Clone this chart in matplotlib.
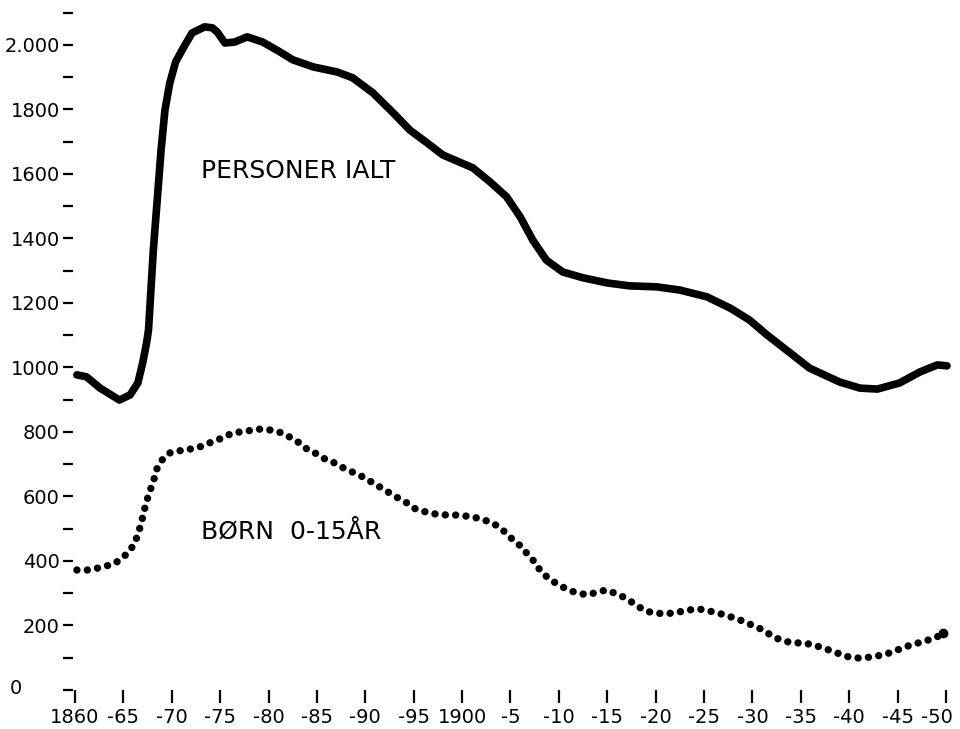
"""Befolkning 1860-1950: personer i alt og børn 0-15 år."""

import matplotlib
matplotlib.use("Agg")
import matplotlib.pyplot as plt
from matplotlib.transforms import ScaledTranslation

# personer i alt (solid line)
total_years = [1860.2, 1861.2, 1862.6, 1864.6, 1865.7, 1866.5, 1867.0, 1867.4, 1867.6,
               1868.1, 1868.5, 1868.9, 1869.3, 1869.8, 1870.4, 1871.2, 1872.1, 1873.4,
               1874.2, 1874.7, 1875.5, 1876.5, 1877.8, 1879.4, 1881.2, 1882.5, 1884.6,
               1887.1, 1888.7, 1890.8, 1892.9, 1894.6, 1896.4, 1898.0, 1901.1, 1902.9,
               1904.6, 1906.0, 1907.3, 1908.7, 1910.4, 1912.5, 1915.0, 1917.3, 1920.1,
               1922.5, 1925.3, 1927.7, 1929.7, 1931.5, 1933.9, 1935.9, 1939.0, 1941.1,
               1942.9, 1945.2, 1947.3, 1949.1, 1950.1]
total_values = [977, 971, 936, 899, 915, 952, 1014, 1076, 1116,
                1364, 1519, 1674, 1798, 1882, 1947, 1991, 2037, 2056,
                2053, 2040, 2006, 2009, 2025, 2009, 1978, 1954, 1932,
                1916, 1898, 1851, 1789, 1736, 1696, 1659, 1619, 1575,
                1529, 1467, 1395, 1333, 1296, 1278, 1262, 1253, 1250,
                1240, 1219, 1184, 1147, 1101, 1045, 998, 955, 936,
                933, 952, 986, 1008, 1005]

# børn 0-15 år (dotted line)
child_years = [1860.2, 1861.3, 1862.9, 1864.2, 1865.5, 1866.2, 1866.7, 1867.0, 1867.3,
               1867.7, 1868.1, 1868.4, 1869.0, 1869.8, 1871.2, 1872.6, 1873.9, 1875.2,
               1876.3, 1877.8, 1878.9, 1880.2, 1881.4, 1882.2, 1883.2, 1884.1, 1885.0,
               1886.0, 1887.1, 1887.9, 1888.9, 1890.0, 1890.8, 1891.7, 1892.5, 1893.4,
               1894.3, 1895.2, 1896.6, 1897.8, 1899.1, 1900.2, 1901.2, 1902.3, 1903.3,
               1904.1, 1904.6, 1905.5, 1906.2, 1906.8, 1907.5, 1908.1, 1908.9, 1909.8,
               1910.8, 1911.8, 1913.0, 1914.0, 1914.9, 1915.7, 1916.7, 1917.5, 1918.3,
               1919.0, 1919.8, 1921.1, 1922.4, 1923.4, 1924.5, 1925.5, 1926.4, 1927.5,
               1928.5, 1929.4, 1930.5, 1931.4, 1932.2, 1933.2, 1934.2, 1935.2, 1936.3,
               1937.3, 1938.2, 1939.0, 1940.0, 1941.0, 1942.2, 1943.5, 1944.5, 1945.7,
               1946.8, 1947.8, 1948.9, 1949.7]
child_values = [372, 372, 381, 394, 425, 456, 502, 536, 574,
                614, 645, 682, 713, 735, 744, 750, 766, 781,
                797, 803, 809, 806, 797, 784, 766, 744, 732,
                713, 701, 685, 673, 657, 642, 626, 611, 595,
                580, 561, 549, 543, 543, 540, 536, 527, 515,
                499, 484, 459, 443, 419, 397, 369, 347, 329,
                313, 301, 295, 304, 310, 301, 288, 273, 257,
                245, 239, 236, 242, 248, 251, 245, 239, 229,
                220, 208, 195, 180, 164, 152, 146, 146, 140,
                130, 121, 112, 102, 99, 102, 109, 118, 133,
                143, 152, 161, 177]

x_ticks = list(range(1860, 1951, 5))
x_labels = ["1860", "-65", "-70", "-75", "-80", "-85", "-90", "-95", "1900",
            "-5", "-10", "-15", "-20", "-25", "-30", "-35", "-40", "-45", "-50"]
y_ticks = list(range(0, 2001, 200))
y_labels = ["", "200", "400", "600", "800", "1000", "1200", "1400", "1600", "1800", "2.000"]
y_minor = list(range(100, 2101, 200))

W, H = 960, 729
fig = plt.figure(figsize=(W / 100, H / 100), dpi=100)
left_px, right_px, top_px, bottom_px = 73.0, 955.7, 3.0, 690.0
ax = fig.add_axes([left_px / W, (H - bottom_px) / H,
                   (right_px - left_px) / W, (bottom_px - top_px) / H])
ax.set_xlim(1859.8, 1951)
ax.set_ylim(0, 2130)

ax.plot(total_years, total_values, color="black", lw=5.5,
        solid_capstyle="round", solid_joinstyle="round", clip_on=False)
ax.plot(child_years, child_values, color="black", lw=5.3,
        linestyle=(0, (0.01, 1.4)), dash_capstyle="round", clip_on=False)
# last dot of the dotted series
ax.plot(child_years[-1:], child_values[-1:], "o", color="black", ms=6, clip_on=False)

ax.text(1873.0, 1610, "PERSONER IALT", fontsize=18, ha="left", va="center")
ax.text(1873.0, 490, "BØRN  0-15ÅR", fontsize=18, ha="left", va="center")

for s in ax.spines.values():
    s.set_visible(False)

ax.set_xticks(x_ticks)
ax.set_xticklabels(x_labels)
ax.set_yticks(y_ticks)
ax.set_yticklabels(y_labels)
ax.set_yticks(y_minor, minor=True)
ax.tick_params(axis="y", which="both", direction="out", length=7.5, width=1.6,
               pad=2, labelsize=14)
ax.tick_params(axis="x", which="both", direction="out", length=9, width=1.6,
               pad=4, labelsize=14)

# last x label is drawn a bit to the left of its tick, as in the original
last = ax.get_xticklabels()[-1]
last.set_transform(last.get_transform() + ScaledTranslation(-0.09, 0, fig.dpi_scale_trans))

# the zero label sits apart, at the far left
fig.text(16 / W, 1 - 688 / H, "0", fontsize=14, ha="center", va="center")

fig.savefig("out.png", dpi=100)
